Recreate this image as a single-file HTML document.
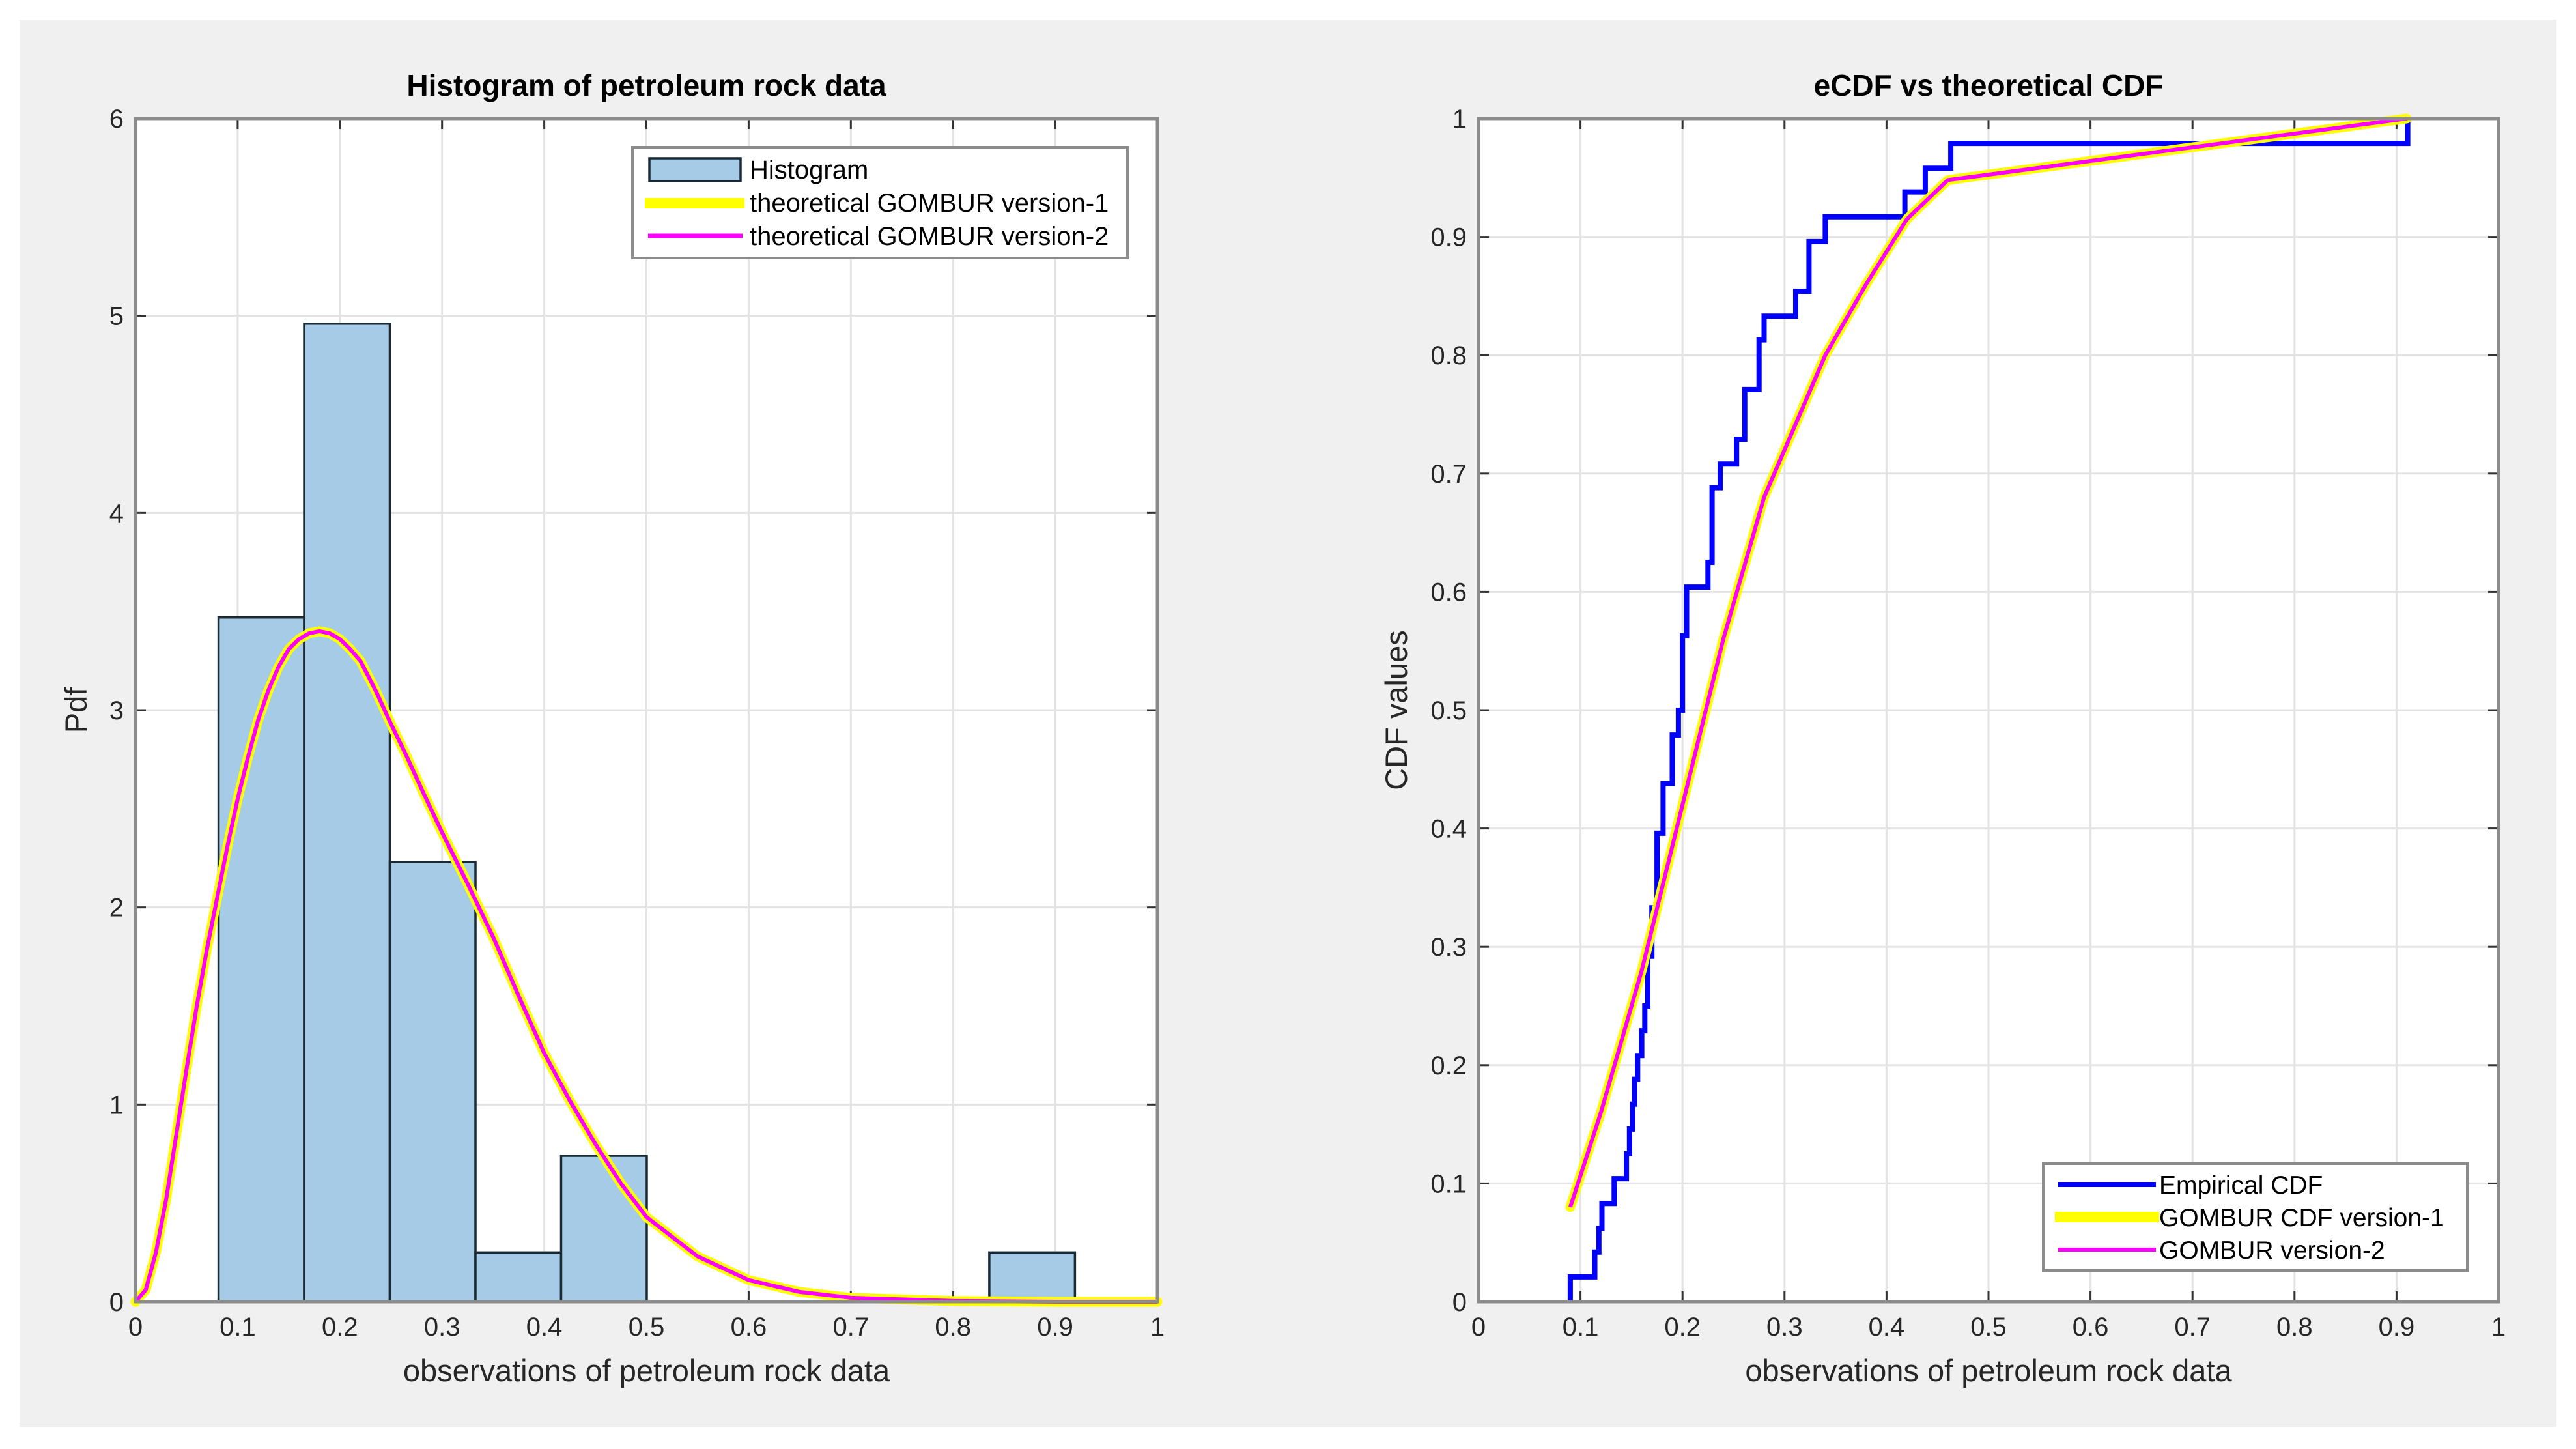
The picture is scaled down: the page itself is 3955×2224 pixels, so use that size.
<!DOCTYPE html>
<html><head><meta charset="utf-8">
<style>
html,body{margin:0;padding:0;background:#fff;}
svg{display:block;font-family:"Liberation Sans",sans-serif;}
</style></head>
<body>
<svg id="fig" width="3955" height="2224" viewBox="0 0 3955 2224" xmlns="http://www.w3.org/2000/svg">
<rect x="30" y="30" width="3895" height="2160" fill="#f0f0f0"/>
<g id="left"></g>
<g id="right"></g>
</svg>
<script>
// Histogram data
const binStart = 0.0813;
const binWidth = 0.0838;
const histHeights = [3.47, 4.96, 2.23, 0.25, 0.74, 0, 0, 0, 0, 0.25];
// Theoretical PDF samples
const pdfX = [0,0.01,0.02,0.03,0.04,0.05,0.06,0.07,0.08,0.09,0.1,0.11,0.12,0.13,0.14,0.15,0.16,0.17,0.18,0.19,0.2,0.21,0.22,0.235,0.25,0.265,0.28,0.3,0.325,0.35,0.375,0.4,0.425,0.45,0.475,0.5,0.55,0.6,0.65,0.7,0.8,0.9,1];
const pdfY = [0,0.06,0.25,0.52,0.85,1.18,1.5,1.79,2.05,2.31,2.55,2.76,2.95,3.1,3.22,3.31,3.36,3.39,3.4,3.39,3.36,3.31,3.25,3.1,2.93,2.77,2.6,2.38,2.12,1.85,1.55,1.26,1.02,0.8,0.6,0.43,0.23,0.11,0.05,0.02,0.004,0,0];
const pdfXTicks = [0,0.1,0.2,0.3,0.4,0.5,0.6,0.7,0.8,0.9,1];
const pdfYTicks = [0,1,2,3,4,5,6];
// CDF data
const ecdfX = [0.09,0.114,0.118,0.121,0.133,0.145,0.148,0.151,0.153,0.156,0.16,0.163,0.166,0.17,0.175,0.181,0.19,0.196,0.2,0.204,0.225,0.229,0.237,0.253,0.261,0.275,0.28,0.311,0.324,0.34,0.418,0.438,0.463,0.911];
const ecdfY = [0.021,0.042,0.062,0.083,0.104,0.125,0.146,0.167,0.188,0.208,0.229,0.25,0.292,0.333,0.396,0.438,0.479,0.5,0.563,0.604,0.625,0.688,0.708,0.729,0.771,0.813,0.833,0.854,0.896,0.917,0.938,0.958,0.979,1.0];
const cdfX = [0.09,0.12,0.16,0.2,0.24,0.28,0.3,0.34,0.38,0.42,0.46,0.91];
const cdfY = [0.08,0.16,0.28,0.42,0.56,0.68,0.72,0.8,0.86,0.915,0.948,1.0];
const cdfXTicks = [0,0.1,0.2,0.3,0.4,0.5,0.6,0.7,0.8,0.9,1];
const cdfYTicks = [0,0.1,0.2,0.3,0.4,0.5,0.6,0.7,0.8,0.9,1];

const NS = "http://www.w3.org/2000/svg";
function mk(parent, tag, attrs, text){
  const e = document.createElementNS(NS, tag);
  for (const k in attrs) e.setAttribute(k, attrs[k]);
  if (text !== undefined) e.textContent = text;
  parent.appendChild(e);
  return e;
}
function fmt(v){ return (Math.round(v*10)/10).toString(); }

function axes(g, L, T, R, B, xMax, yMax, xTicks, yTicks, title, xlabel, ylabel, ylx){
  const sx = v => L + v / xMax * (R - L);
  const sy = v => B - v / yMax * (B - T);
  const bg = mk(g, 'rect', {x:L, y:T, width:R-L, height:B-T, fill:'#fff'});
  
  
  xTicks.forEach(t => {
    const gl = mk(g, 'line', {x1:sx(t), x2:sx(t), y1:T, y2:B, stroke:'#e3e3e3', 'stroke-width':3});
    
    
    mk(g, 'line', {x1:sx(t), x2:sx(t), y1:B, y2:B-16, stroke:'#333', 'stroke-width':3});
    mk(g, 'line', {x1:sx(t), x2:sx(t), y1:T, y2:T+16, stroke:'#333', 'stroke-width':3});
    const tl = mk(g, 'text', {x:sx(t), y:B+52, 'text-anchor':'middle', 'font-size':40, fill:'#262626'}, fmt(t));
    
    
  });
  yTicks.forEach(t => {
    const gl = mk(g, 'line', {x1:L, x2:R, y1:sy(t), y2:sy(t), stroke:'#e3e3e3', 'stroke-width':3});
    
    
    mk(g, 'line', {x1:L, x2:L+16, y1:sy(t), y2:sy(t), stroke:'#333', 'stroke-width':3});
    mk(g, 'line', {x1:R, x2:R-16, y1:sy(t), y2:sy(t), stroke:'#333', 'stroke-width':3});
    const tl = mk(g, 'text', {x:L-18, y:sy(t)+14, 'text-anchor':'end', 'font-size':40, fill:'#262626'}, fmt(t));
    
    
  });
  const tt = mk(g, 'text', {x:(L+R)/2, y:T-35, 'text-anchor':'middle', 'font-size':46, 'font-weight':'bold', fill:'#000'}, title);
  
  
  const xl = mk(g, 'text', {x:(L+R)/2, y:B+122, 'text-anchor':'middle', 'font-size':47, fill:'#262626'}, xlabel);
  
  
  const yl = mk(g, 'text', {x:ylx, y:(T+B)/2, 'text-anchor':'middle', 'font-size':47, fill:'#262626', transform:`rotate(-90 ${ylx} ${(T+B)/2})`}, ylabel);
  
  
  return {sx, sy};
}
function frame(g, L, T, R, B){
  const f = mk(g, 'rect', {x:L, y:T, width:R-L, height:B-T, fill:'none', stroke:'#8c8c8c', 'stroke-width':5});
  
  
}
function pathFrom(xs, ys, sx, sy){
  return xs.map((x,i)=>(i?'L':'M')+sx(x).toFixed(1)+' '+sy(ys[i]).toFixed(1)).join(' ');
}

// LEFT
(function(){
  const g = document.getElementById('left');
  const L=208,T=182,R=1777,B=1998;
  const {sx, sy} = axes(g,L,T,R,B,1,6,pdfXTicks,pdfYTicks,'Histogram of petroleum rock data','observations of petroleum rock data','Pdf',133);
  histHeights.forEach((h,i)=>{
    if (h<=0) return;
    const x0 = binStart + i*binWidth;
    const b = mk(g,'rect',{x:sx(x0), y:sy(h), width:sx(x0+binWidth)-sx(x0), height:sy(0)-sy(h), fill:'#a6cbe6', stroke:'#1a2a33', 'stroke-width':3.5});
    
    
  });
  const d = pathFrom(pdfX, pdfY, sx, sy);
  const y1 = mk(g,'path',{d, fill:'none', stroke:'#ffff00', 'stroke-width':15, 'stroke-linejoin':'round', 'stroke-linecap':'round'});
  
  
  const m1 = mk(g,'path',{d, fill:'none', stroke:'#ff00ff', 'stroke-width':6, 'stroke-linejoin':'round'});
  
  
  frame(g,L,T,R,B);
  const lg = mk(g,'g',{});
  
  
  mk(lg,'rect',{x:971,y:226,width:760,height:170,fill:'#fff',stroke:'#8c8c8c','stroke-width':4});
  mk(lg,'rect',{x:997,y:243,width:140,height:35,fill:'#a6cbe6',stroke:'#1a2a33','stroke-width':3.5});
  mk(lg,'line',{x1:990,x2:1143,y1:312,y2:312,stroke:'#ffff00','stroke-width':16});
  mk(lg,'line',{x1:995,x2:1140,y1:362,y2:362,stroke:'#ff00ff','stroke-width':7});
  const labels=['Histogram','theoretical GOMBUR version-1','theoretical GOMBUR version-2'];
  [274,325,376].forEach((y,i)=>{
    const t = mk(lg,'text',{x:1151,y:y,'font-size':40,fill:'#000'},labels[i]);
    
    
  });
})();

// RIGHT
(function(){
  const g = document.getElementById('right');
  const L=2270,T=182,R=3836,B=1998;
  const {sx, sy} = axes(g,L,T,R,B,1,1,cdfXTicks,cdfYTicks,'eCDF vs theoretical CDF','observations of petroleum rock data','CDF values',2160);
  let d = 'M'+sx(ecdfX[0]).toFixed(1)+' '+sy(0).toFixed(1);
  let prevY = 0;
  ecdfX.forEach((x,i)=>{
    d += ' L'+sx(x).toFixed(1)+' '+sy(prevY).toFixed(1)+' L'+sx(x).toFixed(1)+' '+sy(ecdfY[i]).toFixed(1);
    prevY = ecdfY[i];
  });
  const e = mk(g,'path',{d, fill:'none', stroke:'#0000ff', 'stroke-width':8});
  
  
  const dc = pathFrom(cdfX, cdfY, sx, sy);
  const y1 = mk(g,'path',{d:dc, fill:'none', stroke:'#ffff00', 'stroke-width':15, 'stroke-linejoin':'round', 'stroke-linecap':'round'});
  
  
  const m1 = mk(g,'path',{d:dc, fill:'none', stroke:'#ff00ff', 'stroke-width':6, 'stroke-linejoin':'round'});
  
  
  frame(g,L,T,R,B);
  const lg = mk(g,'g',{});
  
  
  mk(lg,'rect',{x:3137,y:1786,width:651,height:164,fill:'#fff',stroke:'#8c8c8c','stroke-width':4});
  mk(lg,'line',{x1:3160,x2:3310,y1:1818,y2:1818,stroke:'#0000ff','stroke-width':8});
  mk(lg,'line',{x1:3155,x2:3315,y1:1868,y2:1868,stroke:'#ffff00','stroke-width':16});
  mk(lg,'line',{x1:3160,x2:3310,y1:1918,y2:1918,stroke:'#ff00ff','stroke-width':6});
  const labels=['Empirical CDF','GOMBUR CDF version-1','GOMBUR version-2'];
  [1832,1882,1932].forEach((y,i)=>{
    const t = mk(lg,'text',{x:3315,y:y,'font-size':39,fill:'#000'},labels[i]);
    
    
  });
})();
</script>
</body></html>
